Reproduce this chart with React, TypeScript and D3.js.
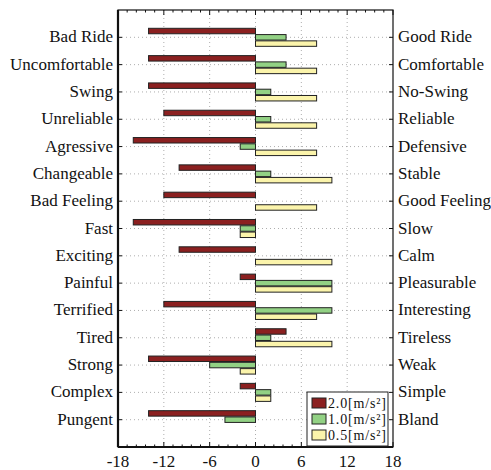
import { useEffect, useRef } from 'react';
import * as d3 from 'd3';

const leftLabels = [
    'Bad Ride', 'Uncomfortable', 'Swing', 'Unreliable', 'Agressive', 'Changeable', 'Bad Feeling',
    'Fast', 'Exciting', 'Painful', 'Terrified', 'Tired', 'Strong', 'Complex', 'Pungent',
];
const rightLabels = [
    'Good Ride', 'Comfortable', 'No-Swing', 'Reliable', 'Defensive', 'Stable', 'Good Feeling',
    'Slow', 'Calm', 'Pleasurable', 'Interesting', 'Tireless', 'Weak', 'Simple', 'Bland',
];

// 2.0, 1.0 and 0.5 m/s^2 series
const accel20 = [-14, -14, -14, -12, -16, -10, -12, -16, -10, -2, -12, 4, -14, -2, -14];
const accel10 = [4, 4, 2, 2, -2, 2, 0, -2, 0, 10, 10, 2, -6, 2, -4];
const accel05 = [8, 8, 8, 8, 8, 10, 8, -2, 10, 10, 8, 10, -2, 2, 0];

const seriesNames = ['2.0[m/s²]', '1.0[m/s²]', '0.5[m/s²]'];
const xTicks = [-18, -12, -6, 0, 6, 12, 18];

const App = () => {
    const svgRef = useRef<SVGSVGElement>(null);

    useEffect(() => {
        const svg = d3.select(svgRef.current);
        svg.selectAll('*').remove();

        const left = 118;
        const right = 393;
        const top = 10;
        const bottom = 447;
        const font = 'Liberation Serif, serif';

        const x = d3.scaleLinear().domain([-18, 18]).range([left, right]);
        const y = d3.scaleLinear().domain([0, 16]).range([top, bottom]);
        const colors = ['#8b2020', '#92d184', '#fbf4ab'];
        const series = [accel20, accel10, accel05];
        const offsets = [-0.23, 0, 0.23];
        const barH = y(0.2) - y(0);

        svg.append('rect')
            .attr('width', 491)
            .attr('height', 470)
            .attr('fill', '#fff');

        // grid
        const grid = svg.append('g').attr('stroke', '#999').attr('stroke-dasharray', '1,3').attr('stroke-width', 0.8);
        xTicks.slice(1, -1).forEach((t) => {
            grid.append('line').attr('x1', x(t)).attr('x2', x(t)).attr('y1', top).attr('y2', bottom);
        });
        leftLabels.forEach((_, i) => {
            grid.append('line').attr('x1', left).attr('x2', right).attr('y1', y(i + 1)).attr('y2', y(i + 1));
        });

        // bars
        series.forEach((vals, s) => {
            svg.append('g')
                .selectAll('rect')
                .data(vals.map((v, i) => ({ v, i })).filter((d) => d.v !== 0))
                .enter()
                .append('rect')
                .attr('x', (d) => Math.min(x(0), x(d.v)))
                .attr('y', (d) => y(d.i + 1 + offsets[s]) - barH / 2)
                .attr('width', (d) => Math.abs(x(d.v) - x(0)))
                .attr('height', barH)
                .attr('fill', colors[s])
                .attr('stroke', '#222')
                .attr('stroke-width', 1);
        });

        // frame
        const axis = svg.append('g').attr('stroke', '#111').attr('fill', 'none');
        axis.append('rect')
            .attr('x', left)
            .attr('y', top)
            .attr('width', right - left)
            .attr('height', bottom - top)
            .attr('stroke-width', 1.2);
        axis.append('line')
            .attr('x1', left).attr('x2', left).attr('y1', top).attr('y2', bottom)
            .attr('stroke-width', 2.2);
        axis.append('line')
            .attr('x1', left).attr('x2', right).attr('y1', bottom).attr('y2', bottom)
            .attr('stroke-width', 2);

        // x ticks, major and minor
        d3.range(-18, 18.01, 1.2).forEach((t) => {
            const major = xTicks.some((m) => Math.abs(m - t) < 0.01);
            const len = major ? 5 : 2.5;
            axis.append('line').attr('x1', x(t)).attr('x2', x(t)).attr('y1', top).attr('y2', top + len);
            axis.append('line').attr('x1', x(t)).attr('x2', x(t)).attr('y1', bottom).attr('y2', bottom - len);
        });
        leftLabels.forEach((_, i) => {
            axis.append('line').attr('x1', left).attr('x2', left + 4).attr('y1', y(i + 1)).attr('y2', y(i + 1));
            axis.append('line').attr('x1', right).attr('x2', right - 4).attr('y1', y(i + 1)).attr('y2', y(i + 1));
        });

        svg.append('g')
            .selectAll('text')
            .data(xTicks)
            .enter()
            .append('text')
            .attr('x', (d) => x(d))
            .attr('y', 467)
            .attr('text-anchor', 'middle')
            .attr('font-family', font)
            .attr('font-size', 17)
            .attr('fill', '#111')
            .text((d) => d);

        svg.append('g')
            .selectAll('text')
            .data(leftLabels)
            .enter()
            .append('text')
            .attr('x', left - 5)
            .attr('y', (_, i) => y(i + 1) + 5)
            .attr('text-anchor', 'end')
            .attr('font-family', font)
            .attr('font-size', 17)
            .attr('fill', '#111')
            .text((d) => d);

        svg.append('g')
            .selectAll('text')
            .data(rightLabels)
            .enter()
            .append('text')
            .attr('x', right + 5)
            .attr('y', (_, i) => y(i + 1) + 5)
            .attr('font-family', font)
            .attr('font-size', 17)
            .attr('fill', '#111')
            .text((d) => d);

        // legend
        const legend = svg.append('g').attr('transform', 'translate(307,392)');
        legend.append('rect')
            .attr('width', 81)
            .attr('height', 54)
            .attr('fill', '#fff')
            .attr('stroke', '#222')
            .attr('stroke-width', 1);
        seriesNames.forEach((name, s) => {
            const row = legend.append('g').attr('transform', `translate(5, ${11 + s * 16})`);
            row.append('rect')
                .attr('x', 0)
                .attr('y', -5)
                .attr('width', 14)
                .attr('height', 10)
                .attr('fill', colors[s])
                .attr('stroke', '#222');
            row.append('text')
                .attr('x', 16)
                .attr('y', 5)
                .attr('font-family', font)
                .attr('font-size', 14)
                .attr('textLength', 58)
                .attr('fill', '#111')
                .text(name);
        });
    }, []);

    return (
        <div>
            <svg
                ref={svgRef}
                width={491}
                height={470}
                style={{ position: 'absolute', left: 0, top: 0 }}
            ></svg>
        </div>
    );
};

export default App;
